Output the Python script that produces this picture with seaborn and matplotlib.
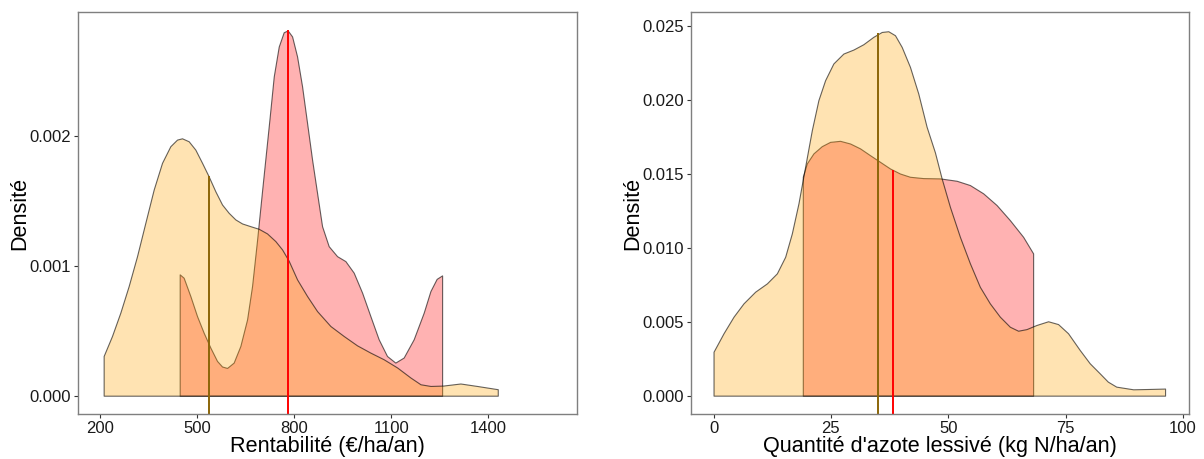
import numpy as np
import pandas as pd
import seaborn as sns
import matplotlib.pyplot as plt

# Rentabilité densities
rent_all_x = [210.3, 236.1, 261.9, 287.7, 313.5, 339.2, 365.0, 390.8, 416.5, 437.2,
              452.6, 473.3, 493.8, 514.6, 535.0, 555.7, 576.4, 596.9, 617.6, 638.3,
              664.0, 689.7, 715.6, 741.3, 762.0, 782.4, 808.4, 839.3, 870.2, 911.4,
              952.6, 993.8, 1035.0, 1076.0, 1118.0, 1159.0, 1190.0, 1221.0, 1260.0, 1313.5,
              1365.0, 1429.0]
rent_all_y = [0.000306, 0.00046, 0.00064, 0.000845, 0.001075, 0.001332, 0.001588, 0.001794, 0.001922, 0.001973,
              0.001983, 0.00196, 0.001896, 0.001794, 0.00169, 0.001575, 0.001473, 0.001409, 0.001358, 0.001327,
              0.001306, 0.001286, 0.00125, 0.001191, 0.001127, 0.00104, 0.000896, 0.000768, 0.000652, 0.000537,
              0.00046, 0.000388, 0.000332, 0.000281, 0.000217, 0.00014, 0.000088, 0.000075, 0.000078, 0.000094,
              0.000075, 0.00005]
rent_sel_x = [445.4, 457.7, 478.4, 499.0, 519.5, 540.2, 560.9, 576.4, 591.9, 612.3,
              633.0, 653.8, 669.2, 684.7, 700.2, 723.0, 736.3, 751.7, 767.0, 779.4,
              793.0, 808.4, 823.9, 839.3, 854.8, 870.2, 885.7, 906.2, 932.1, 957.8,
              983.5, 1009.5, 1035.0, 1060.7, 1086.5, 1112.2, 1138.0, 1169.0, 1200.0, 1220.7,
              1240.0, 1256.9]
rent_sel_y = [0.000935, 0.000909, 0.000768, 0.000614, 0.000486, 0.000371, 0.000268, 0.000225, 0.000214, 0.000255,
              0.000383, 0.000588, 0.000845, 0.0012, 0.00158, 0.00213, 0.00246, 0.00269, 0.0028, 0.002814,
              0.002768, 0.002614, 0.002383, 0.002102, 0.001819, 0.001563, 0.001306, 0.001152, 0.001075, 0.001037,
              0.000948, 0.000794, 0.000614, 0.000435, 0.000306, 0.000255, 0.000294, 0.000435, 0.00064, 0.000806,
              0.0009, 0.000927]
rent_med_x = [535.0, 779.4]
rent_med_top = [0.00169, 0.002814]

# Azote lessivé densities
az_all_x = [0.0, 2.13, 4.26, 6.38, 8.87, 11.36, 13.49, 15.26, 16.68, 18.09,
            19.51, 20.94, 22.34, 23.77, 25.53, 27.66, 29.79, 31.91, 34.04, 35.83,
            37.23, 38.66, 40.09, 41.85, 43.62, 45.4, 47.17, 48.6, 50.36, 52.49,
            54.62, 56.74, 58.87, 61.0, 63.13, 64.89, 66.68, 68.81, 71.28, 73.4,
            75.53, 78.02, 80.15, 82.28, 84.0, 85.8, 89.4, 92.5, 96.2]
az_all_y = [0.00297, 0.00422, 0.00534, 0.00624, 0.00703, 0.00759, 0.00827, 0.00939, 0.01097, 0.013,
            0.01547, 0.01795, 0.01998, 0.02133, 0.02246, 0.02313, 0.0234, 0.02376, 0.02426, 0.02459,
            0.02464, 0.02437, 0.02358, 0.02223, 0.02043, 0.01818, 0.01645, 0.01469, 0.01277, 0.01074,
            0.00895, 0.00736, 0.00624, 0.00534, 0.00466, 0.00439, 0.0045, 0.00478, 0.00503, 0.00484,
            0.00422, 0.00309, 0.00219, 0.00151, 0.00095, 0.00061, 0.00043, 0.00045, 0.00048]
az_sel_x = [19.02, 19.87, 21.28, 23.06, 24.83, 26.96, 29.09, 31.21, 33.34, 35.47,
            37.6, 39.72, 41.85, 44.68, 48.23, 51.79, 54.62, 57.45, 60.3, 63.13,
            65.96, 68.09]
az_sel_y = [0.0148, 0.0157, 0.01638, 0.01687, 0.01716, 0.01723, 0.01705, 0.01672, 0.01626, 0.01581,
            0.01536, 0.01502, 0.0148, 0.01471, 0.01469, 0.01453, 0.01424, 0.01368, 0.01289, 0.01187,
            0.01074, 0.00962]
az_med_x = [35.1, 38.3]
az_med_top = [0.02453, 0.01525]

sns.set_theme(style="white")
plt.rcParams['font.family'] = ['Liberation Sans', 'DejaVu Sans']

fill_all = (1.0, 0.647, 0.0, 0.3)
fill_sel = (1.0, 0.0, 0.0, 0.3)
edge = (0, 0, 0, 0.6)
med_colors = ['#8B6508', '#FF0000']

fig = plt.figure(figsize=(12.04, 4.59), dpi=100)
ax1 = fig.add_axes([78 / 1204, 45 / 459, 499 / 1204, 402 / 459])
ax2 = fig.add_axes([691 / 1204, 45 / 459, 498 / 1204, 402 / 459])


def draw_panel(ax, all_x, all_y, sel_x, sel_y, med_x, med_top, xlim, ylim,
               xticks, yticks, xlabel):
    df_all = pd.DataFrame({'x': all_x, 'y': all_y})
    df_sel = pd.DataFrame({'x': sel_x, 'y': sel_y})
    ax.fill_between(df_sel['x'], 0, df_sel['y'], facecolor=fill_sel, edgecolor=edge, linewidth=0.8)
    ax.fill_between(df_all['x'], 0, df_all['y'], facecolor=fill_all, edgecolor=edge, linewidth=0.8)
    ax.set_xlim(*xlim)
    ax.set_ylim(*ylim)
    for mx, mt, c in zip(med_x, med_top, med_colors):
        ax.vlines(mx, ylim[0], mt, color=c, linewidth=1.4)
    ax.set_xticks(xticks)
    ax.set_yticks(yticks)
    ax.set_yticklabels(['{:.3f}'.format(v) for v in yticks])
    ax.tick_params(axis='both', which='major', direction='out', length=3, width=0.8,
                   color='#333333', labelsize=12, labelcolor='#1a1a1a', pad=2,
                   bottom=True, left=True)
    for s in ax.spines.values():
        s.set_color('#7f7f7f')
        s.set_linewidth(1.0)
    ax.set_xlabel(xlabel, fontsize=15.6, color='black')
    ax.set_ylabel('Densité', fontsize=15.6, color='black')
    ax.xaxis.set_label_coords(0.5, -0.055)
    ax.yaxis.set_label_coords(-0.095, 0.5)
    ax.grid(False)


draw_panel(ax1, rent_all_x, rent_all_y, rent_sel_x, rent_sel_y, rent_med_x, rent_med_top,
           (131, 1674), (-0.000141, 0.002956), [200, 500, 800, 1100, 1400],
           [0.0, 0.001, 0.002], 'Rentabilité (€/ha/an)')
draw_panel(ax2, az_all_x, az_all_y, az_sel_x, az_sel_y, az_med_x, az_med_top,
           (-4.8, 101.3), (-0.00124, 0.02594), [0, 25, 50, 75, 100],
           [0.0, 0.005, 0.01, 0.015, 0.02, 0.025], "Quantité d'azote lessivé (kg N/ha/an)")

fig.savefig('out.png', dpi=100)
